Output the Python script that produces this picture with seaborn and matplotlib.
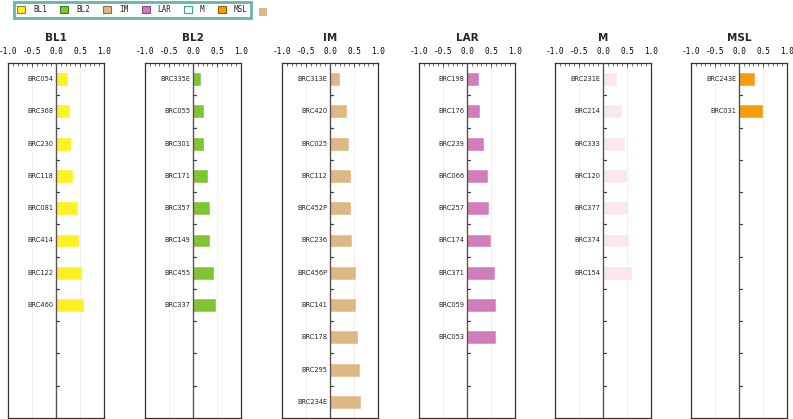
import numpy as np
import pandas as pd
import matplotlib
matplotlib.use("Agg")
import matplotlib.pyplot as plt
from matplotlib.patches import Patch, Rectangle
from matplotlib.ticker import FixedLocator, FixedFormatter, MultipleLocator
import seaborn as sns

sns.set_style("white")
plt.rcParams['font.family'] = ['DejaVu Sans']

subtypes = ["BL1", "BL2", "IM", "LAR", "M", "MSL"]

bl1_samples = ["BRC054", "BRC368", "BRC230", "BRC118", "BRC081", "BRC414", "BRC122", "BRC460"]
bl1_values = [0.23, 0.27, 0.30, 0.34, 0.43, 0.46, 0.53, 0.57]

bl2_samples = ["BRC335E", "BRC055", "BRC301", "BRC171", "BRC357", "BRC149", "BRC455", "BRC337"]
bl2_values = [0.15, 0.21, 0.21, 0.29, 0.33, 0.33, 0.41, 0.45]

im_samples = ["BRC313E", "BRC420", "BRC025", "BRC112", "BRC452P", "BRC236", "BRC456P",
              "BRC141", "BRC178", "BRC295", "BRC234E"]
im_values = [0.18, 0.34, 0.37, 0.41, 0.42, 0.43, 0.53, 0.53, 0.57, 0.60, 0.63]

lar_samples = ["BRC198", "BRC176", "BRC239", "BRC066", "BRC257", "BRC174", "BRC371", "BRC059", "BRC053"]
lar_values = [0.22, 0.25, 0.33, 0.42, 0.43, 0.48, 0.57, 0.58, 0.59]

m_samples = ["BRC231E", "BRC214", "BRC333", "BRC120", "BRC377", "BRC374", "BRC154"]
m_values = [0.28, 0.37, 0.44, 0.47, 0.51, 0.52, 0.58]

msl_samples = ["BRC243E", "BRC031"]
msl_values = [0.31, 0.47]

tick_values = [-1.0, -0.5, 0.0, 0.5, 1.0]
tick_labels = ["-1.0", "-0.5", "0.0", "0.5", "1.0"]

bar_colors = ["#FFF022", "#80C432", "#DDB884", "#D07DBA", "#FCE6EE", "#F39C16"]
edge_colors = ["#8A8A10", "#3F7A10", "#8F7048", "#8A4A80", "#3AA597", "#9A5A00"]
legend_fill = ["#FFF022", "#80C432", "#DDB884", "#D07DBA", "#EFFBFB", "#F39C16"]

samples = [bl1_samples, bl2_samples, im_samples, lar_samples, m_samples, msl_samples]
values = [bl1_values, bl2_values, im_values, lar_values, m_values, msl_values]

W, H = 793, 419
fig = plt.figure(figsize=(W / 100, H / 100), dpi=100)

lefts = [8, 145, 282, 419, 555, 691]
pw = 96
ptop = 63
pbot = 418
nslots = 11

for k, st in enumerate(subtypes):
    df = pd.DataFrame({"sample": samples[k], "value": values[k]})
    ax = fig.add_axes([lefts[k] / W, (H - pbot) / H, pw / W, (pbot - ptop) / H])
    sns.barplot(data=df, x="value", y="sample", ax=ax, color=bar_colors[k],
                width=0.37, edgecolor=bar_colors[k], linewidth=0.4, saturation=1)
    ax.set_xlim(-1, 1)
    ax.set_ylim(nslots - 0.5, -0.5)
    ax.set_xlabel("")
    ax.set_ylabel("")
    ax.set_yticks([])
    for g in (-0.5, 0.5):
        ax.axvline(g, color="#EEEEEE", lw=0.6, zorder=0)
    ax.axvline(0, color="#555555", lw=1.0, zorder=3)
    for b in np.arange(0.5, nslots - 1, 1.0):
        ax.plot([0, 0.06], [b, b], color="#444444", lw=0.9, zorder=3)
    for i, s in enumerate(samples[k]):
        ax.text(-0.06, i, s, ha="right", va="center", fontsize=4.8, color="#222222")
    ax.xaxis.tick_top()
    ax.xaxis.set_major_locator(FixedLocator(tick_values))
    ax.xaxis.set_major_formatter(FixedFormatter(tick_labels))
    ax.xaxis.set_minor_locator(MultipleLocator(0.1))
    ax.tick_params(axis="x", which="major", direction="in", length=3, width=0.6,
                   pad=5, labelsize=5.6, colors="#333333", labelcolor="black")
    ax.tick_params(axis="x", which="minor", direction="in", length=2, width=0.5, colors="#333333")
    for lab in ax.get_xticklabels():
        lab.set_family("DejaVu Sans Mono")
    for sp in ax.spines.values():
        sp.set_visible(True)
        sp.set_color("#333333")
        sp.set_linewidth(0.9)
    ax.text(0.5, 1 + 25 / (pbot - ptop), st, transform=ax.transAxes, ha="center",
            va="center", fontsize=7.5, fontweight="bold")

handles = [Patch(facecolor=legend_fill[k], edgecolor=edge_colors[k], linewidth=0.8)
           for k in range(len(subtypes))]
leg = fig.legend(handles, subtypes, ncol=6, loc="upper left",
                 bbox_to_anchor=(14 / W, 1 - 2 / H), frameon=True, fancybox=False,
                 edgecolor="#3AA597", handlelength=1.05, handleheight=1.05,
                 handletextpad=1.0, columnspacing=1.75, borderpad=0.45,
                 borderaxespad=0.0,
                 prop={"family": "DejaVu Sans Mono", "size": 5.5})
leg.get_frame().set_linewidth(2.0)

fig.patches.append(Rectangle((259 / W, 1 - 16 / H), 8 / W, 8 / H,
                             transform=fig.transFigure, facecolor="#DDB884",
                             edgecolor="none"))

fig.savefig("out.png", dpi=100)
